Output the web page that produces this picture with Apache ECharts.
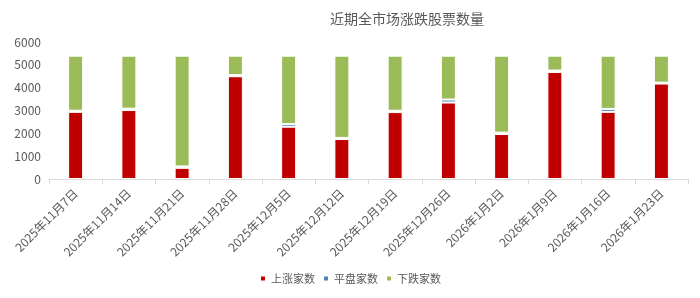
<!DOCTYPE html>
<html><head><meta charset="utf-8">
<script src="https://cdn.jsdelivr.net/npm/echarts@6/dist/echarts.min.js"></script>
<style>html,body{margin:0;padding:0;background:#fff}#c{width:700px;height:298px}</style>
</head><body><div id="c"></div>
<script>
const categories = ['2025年11月7日','2025年11月14日','2025年11月21日','2025年11月28日','2025年12月5日','2025年12月12日','2025年12月19日','2025年12月26日','2026年1月2日','2026年1月9日','2026年1月16日','2026年1月23日'];
const upCounts = [2940, 3020, 490, 4500, 2290, 1750, 2930, 3350, 1970, 4690, 2940, 4180];
const flatCounts = [50, 60, 60, 50, 120, 50, 60, 130, 60, 60, 130, 40];
const downCounts = [2410, 2320, 4850, 850, 2990, 3600, 2410, 1920, 3370, 650, 2330, 1180];
const yTicks = [0, 1000, 2000, 3000, 4000, 5000, 6000];
const seriesNames = ['上涨家数', '平盘家数', '下跌家数'];
const colors = ['#C00000', '#4F81BD', '#9BBB59'];

const chart = echarts.init(document.getElementById('c'), null, {renderer: 'canvas'});
const font = '"Microsoft YaHei","Noto Sans CJK SC",sans-serif';
const mk = (name, data, color) => ({
  name, type: 'bar', stack: 'total', data, barWidth: 15,
  itemStyle: {color, borderColor: '#fff', borderWidth: 1},
  emphasis: {disabled: true}
});
chart.setOption({
  animation: false,
  title: {text: '近期全市场涨跌股票数量', left: 325, top: 7,
    textStyle: {fontSize: 14, fontWeight: 'normal', color: '#595959', fontFamily: font}},
  legend: {bottom: 9, left: 'center', itemWidth: 6, itemHeight: 6, itemGap: 7,
    icon: 'rect', textStyle: {fontSize: 11, color: '#595959', fontFamily: font},
    data: seriesNames},
  grid: {left: 49, right: 12, top: 42, bottom: 119},
  xAxis: {type: 'category', data: categories,
    axisLine: {lineStyle: {color: '#D9D9D9'}},
    axisTick: {show: true, length: 5, lineStyle: {color: '#D9D9D9'}},
    axisLabel: {rotate: 45, fontSize: 12, color: '#595959', fontFamily: font, margin: 12, interval: 0}},
  yAxis: {type: 'value', min: yTicks[0], max: yTicks[yTicks.length - 1], interval: 1000,
    axisLine: {show: false}, axisTick: {show: false}, splitLine: {show: false},
    axisLabel: {fontSize: 12, color: '#595959', fontFamily: font, margin: 8, formatter: v => String(v)}},
  series: [mk(seriesNames[0], upCounts, colors[0]), mk(seriesNames[1], flatCounts, colors[1]), mk(seriesNames[2], downCounts, colors[2])]
});
</script></body></html>
